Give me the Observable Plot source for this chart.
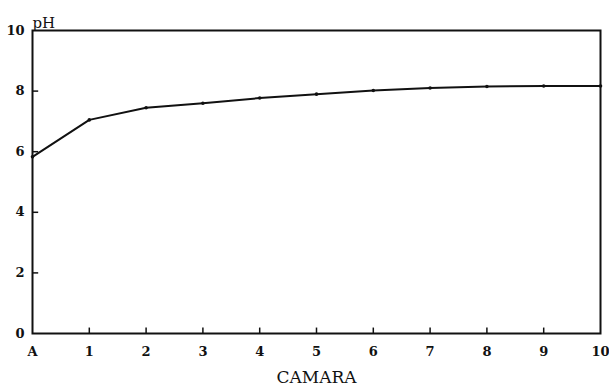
<!DOCTYPE html>
<html><head><meta charset="utf-8">
<script src="https://cdn.jsdelivr.net/npm/d3@7"></script>
<script src="https://cdn.jsdelivr.net/npm/@observablehq/plot@0.6"></script>
<style>body{margin:0;background:#fff}</style>
</head><body><div id="chart"></div>
<script>
const categories = ["A","1","2","3","4","5","6","7","8","9","10"];
const phValues = [5.83,7.05,7.45,7.6,7.77,7.9,8.02,8.1,8.15,8.17,8.17];
const yTicks = [0,2,4,6,8,10];
const xLabel = "CAMARA";
const yLabel = "pH";
const data = categories.map((c,i)=>({i, camara:c, ph:phValues[i]}));
const xIdx = categories.map((c,i)=>i);
const font = "DejaVu Serif";
const ink = "#111";
const chart = Plot.plot({
  width:609, height:391, marginLeft:32, marginRight:9, marginTop:30, marginBottom:58,
  style:{fontFamily:font, fontSize:"13px", fontWeight:"bold", color:ink, background:"#fff"},
  x:{domain:[0, categories.length-1], ticks:xIdx, tickFormat:i=>categories[i], tickSize:0, tickPadding:13, label:null},
  y:{domain:[0,10], ticks:yTicks, tickSize:0, tickPadding:8, label:null},
  marks:[
    Plot.frame({stroke:ink, strokeWidth:2}),
    Plot.ruleX(xIdx.slice(1,-1), {x:d=>d, y1:0, y2:0.18, stroke:ink, strokeWidth:1.5}),
    Plot.link(yTicks.slice(1,-1), {x1:()=>0, x2:()=>0.1, y1:d=>d, y2:d=>d, stroke:ink, strokeWidth:1.5}),
    Plot.line(data, {x:"i", y:"ph", stroke:ink, strokeWidth:2}),
    Plot.dot(data, {x:"i", y:"ph", r:1.8, fill:ink}),
    Plot.text([yLabel], {text:d=>d, frameAnchor:"top-left", dy:-13, textAnchor:"start", fontSize:15, fontWeight:"normal"}),
    Plot.text([xLabel], {text:d=>d, frameAnchor:"bottom", dy:49, fontSize:17, fontWeight:"normal"})
  ]
});
document.getElementById("chart").appendChild(chart);
</script>
</body></html>
